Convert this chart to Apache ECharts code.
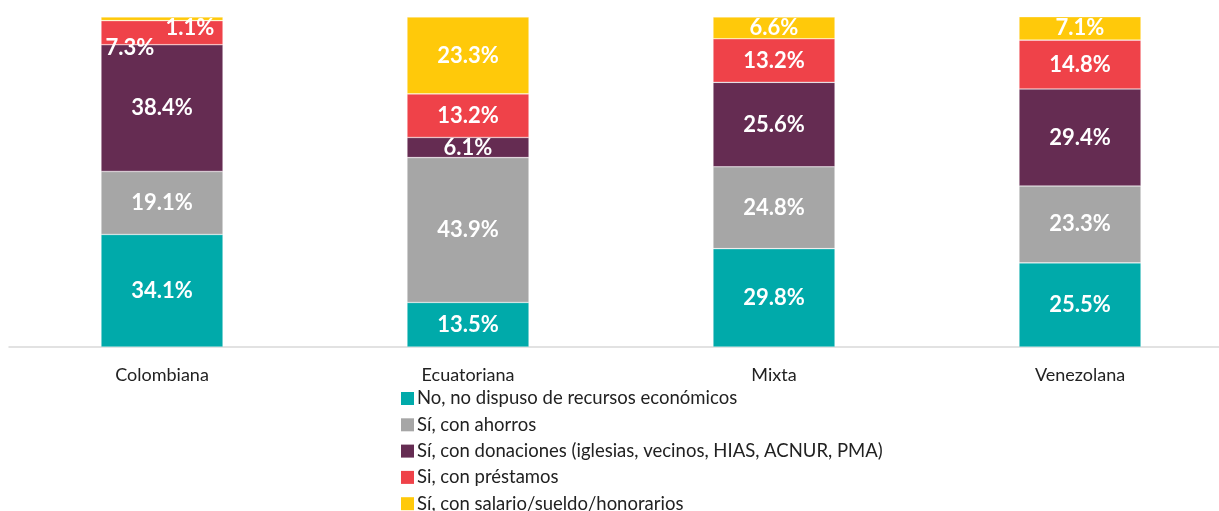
<!DOCTYPE html>
<html>
<head>
<meta charset="utf-8">
<script src="https://cdn.jsdelivr.net/npm/echarts@6/dist/echarts.min.js"></script>
<style>
	html, body { margin: 0; padding: 0; background: #fff; }
	#chart { width: 1219px; height: 511px; }
</style>
</head>
<body>
<div id="chart"></div>
<script>
	// categorias y series
	var categories = ['Colombiana', 'Ecuatoriana', 'Mixta', 'Venezolana'];
	var seriesNames = [
		'No, no dispuso de recursos económicos',
		'Sí, con ahorros',
		'Sí, con donaciones (iglesias, vecinos, HIAS, ACNUR, PMA)',
		'Si, con préstamos',
		'Sí, con salario/sueldo/honorarios'
	];
	var noRecursos = [34.1, 13.5, 29.8, 25.5];
	var ahorros = [19.1, 43.9, 24.8, 23.3];
	var donaciones = [38.4, 6.1, 25.6, 29.4];
	var prestamos = [7.3, 13.2, 13.2, 14.8];
	var salario = [1.1, 23.3, 6.6, 7.1];

	var colors = ['#00aaaa', '#a6a6a6', '#652c52', '#ef4249', '#ffc90a'];
	var allData = [noRecursos, ahorros, donaciones, prestamos, salario];

	// etiquetas que no caben en el segmento (Colombiana)
	var labelMoves = {
		'3-0': { offset: [-32, 15] },
		'4-0': { offset: [28, 9] }
	};

	var myChart = echarts.init(document.getElementById('chart'));

	var series = [];
	for (var s = 0; s < allData.length; s++) {
		var items = [];
		for (var i = 0; i < allData[s].length; i++) {
			var item = { value: allData[s][i] };
			var mv = labelMoves[s + '-' + i];
			if (mv) {
				item.label = { offset: mv.offset };
			}
			items.push(item);
		}
		series.push({
			name: seriesNames[s],
			type: 'bar',
			stack: 'total',
			barWidth: 122,
			data: items,
			itemStyle: {
				color: colors[s],
				borderColor: 'rgba(255,255,255,0.5)',
				borderWidth: 0.6
			},
			label: {
				show: true,
				position: 'inside',
				color: '#fff',
				fontFamily: 'Lato',
				fontWeight: 'bold',
				fontSize: 22,
				formatter: function(p) { return p.value.toFixed(1) + '%'; }
			}
		});
	}

	var option = {
		animation: false,
		color: colors,
		grid: {
			left: 9,
			top: 17,
			width: 1224,
			height: 330,
			outerBoundsMode: 'none',
			containLabel: false
		},
		legend: {
			orient: 'vertical',
			left: 396,
			top: 384,
			height: 200,
			itemWidth: 13,
			itemHeight: 13,
			itemGap: 7.3,
			icon: 'rect',
			itemStyle: { borderWidth: 0 },
			textStyle: {
				fontFamily: 'Lato',
				fontSize: 18.5,
				color: '#222',
				padding: [0, 0, 0, -2]
			},
			data: seriesNames
		},
		xAxis: {
			type: 'category',
			data: categories,
			axisLine: { lineStyle: { color: '#d9d9d9', width: 1.5 } },
			axisTick: { show: false },
			axisLabel: {
				margin: 19,
				fontFamily: 'Lato',
				fontSize: 18,
				color: '#222'
			}
		},
		yAxis: {
			type: 'value',
			min: 0,
			max: 100,
			show: false,
			splitLine: { show: false }
		},
		series: series
	};
	myChart.setOption(option);
</script>
</body>
</html>
